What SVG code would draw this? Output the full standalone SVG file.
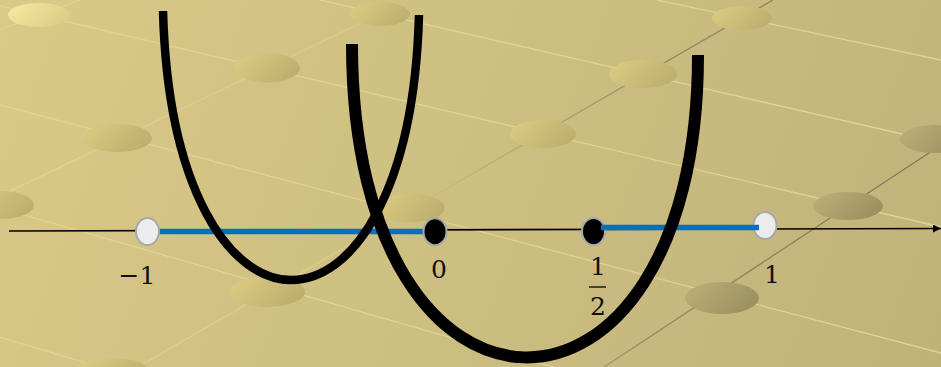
<svg xmlns="http://www.w3.org/2000/svg" width="941" height="367" viewBox="0 0 941 367">
<defs>
<linearGradient id="bg" x1="0" y1="0" x2="941" y2="367" gradientUnits="userSpaceOnUse">
<stop offset="0" stop-color="#d9ca89"/>
<stop offset="1" stop-color="#c1b27a"/>
</linearGradient>
<linearGradient id="dl" x1="0" y1="0" x2="941" y2="0" gradientUnits="userSpaceOnUse">
<stop offset="0" stop-color="#e0d396"/>
<stop offset="0.4" stop-color="#d6c98c"/>
<stop offset="0.55" stop-color="#b6a874"/>
<stop offset="0.7" stop-color="#948a66"/>
<stop offset="1" stop-color="#7e7658"/>
</linearGradient>
<linearGradient id="eA" x1="0" y1="0.3" x2="1" y2="0.7">
<stop offset="0" stop-color="#f6e69e"/>
<stop offset="1" stop-color="#dccb86"/>
</linearGradient>
<linearGradient id="eB" x1="0" y1="0.3" x2="1" y2="0.7">
<stop offset="0" stop-color="#dbca80"/>
<stop offset="1" stop-color="#bcad6f"/>
</linearGradient>
<linearGradient id="eC" x1="0" y1="0.3" x2="1" y2="0.7">
<stop offset="0" stop-color="#bbad75"/>
<stop offset="1" stop-color="#9b8f60"/>
</linearGradient>
<marker id="arr" viewBox="0 0 10 10" refX="10" refY="5" markerWidth="8" markerHeight="8" markerUnits="userSpaceOnUse" orient="auto">
<path d="M0,0 L10,5 L0,10 z" fill="#000"/>
</marker>
<style>
.ll{stroke:#e0d394;stroke-width:1.3;fill:none}
.dk{stroke:url(#dl);stroke-width:1.3;fill:none}
.lbl{font-family:"DejaVu Serif","Liberation Serif",serif;font-size:25px;fill:#111;text-anchor:middle}
.open{fill:#ececec;stroke:#a8a8a8;stroke-width:2}
.fill{fill:#000;stroke:#a8a8a8;stroke-width:2}
.seg{stroke:#0070c0;stroke-width:5.5;fill:none}
.curve{stroke:#000;fill:none;stroke-linecap:butt}
</style>
</defs>
<g id="background">
<rect x="0" y="0" width="941" height="367" fill="url(#bg)"/>
<line class="ll" x1="0" y1="6" x2="941" y2="227"/>
<line class="ll" x1="320" y1="0" x2="941" y2="143"/>
<line class="ll" x1="0" y1="105" x2="941" y2="353"/>
<line class="ll" x1="0" y1="208" x2="560" y2="369"/>
<line class="ll" x1="0" y1="337" x2="100" y2="367"/>
<line class="ll" x1="657" y1="0" x2="941" y2="60"/>
<line class="dk" x1="0" y1="30" x2="80" y2="0"/>
<line class="dk" x1="409" y1="0" x2="0" y2="196"/>
<line class="dk" x1="773" y1="0" x2="138" y2="367"/>
<line class="dk" x1="941" y1="145" x2="604" y2="367"/>
<ellipse cx="39" cy="15" rx="31" ry="12" fill="url(#eA)"/>
<ellipse cx="380" cy="14" rx="30" ry="12" fill="url(#eB)"/>
<ellipse cx="742" cy="18" rx="30" ry="12" fill="url(#eB)"/>
<ellipse cx="267" cy="68" rx="33" ry="14.5" fill="url(#eB)"/>
<ellipse cx="643" cy="74" rx="34" ry="14" fill="url(#eB)"/>
<ellipse cx="117" cy="138" rx="35" ry="14" fill="url(#eB)"/>
<ellipse cx="543" cy="134" rx="33" ry="14" fill="url(#eB)"/>
<ellipse cx="935" cy="139" rx="35" ry="14" fill="url(#eC)"/>
<ellipse cx="0" cy="205" rx="34" ry="14" fill="url(#eB)"/>
<ellipse cx="410" cy="208" rx="35" ry="14" fill="url(#eB)"/>
<ellipse cx="848" cy="206" rx="35" ry="14" fill="url(#eC)"/>
<ellipse cx="267" cy="292" rx="38" ry="15" fill="url(#eB)"/>
<ellipse cx="722" cy="298" rx="37" ry="16" fill="url(#eC)"/>
<ellipse cx="113" cy="372" rx="36" ry="14" fill="url(#eB)"/>
</g>
<g id="connectors">
<line id="axis" x1="9" y1="231" x2="941" y2="228.5" stroke="#000" stroke-width="1.6" marker-end="url(#arr)"/>
<line id="seg-left" class="seg" x1="158" y1="231.5" x2="424" y2="231.5"/>
</g>
<g id="point-neg1"><ellipse class="open" cx="147.5" cy="231.5" rx="11.5" ry="13.5"/></g>
<g id="point-0"><ellipse class="fill" cx="435" cy="231.7" rx="11.5" ry="13.5"/></g>
<g id="point-half"><ellipse class="fill" cx="593.5" cy="231.5" rx="11.5" ry="13.5"/></g>
<g id="point-1"><ellipse class="open" cx="765" cy="225.5" rx="11.5" ry="13.5"/></g>
<g id="connectors-top">
<line id="seg-right" class="seg" x1="601" y1="227.5" x2="759" y2="227.5"/>
<path id="parabola-1" class="curve" stroke-width="8.5" d="M163,11 C173,369 409,369 419,15"/>
<path id="parabola-2" class="curve" stroke-width="12" d="M352,44 C352,460 698,460 698,55"/>
</g>
<g id="labels">
<text class="lbl" x="137" y="284">−1</text>
<text class="lbl" x="439" y="278">0</text>
<text class="lbl" x="598" y="275">1</text>
<line x1="589" y1="287" x2="606" y2="287" stroke="#111" stroke-width="1.4"/>
<text class="lbl" x="598" y="315">2</text>
<text class="lbl" x="772" y="283">1</text>
</g>
</svg>
